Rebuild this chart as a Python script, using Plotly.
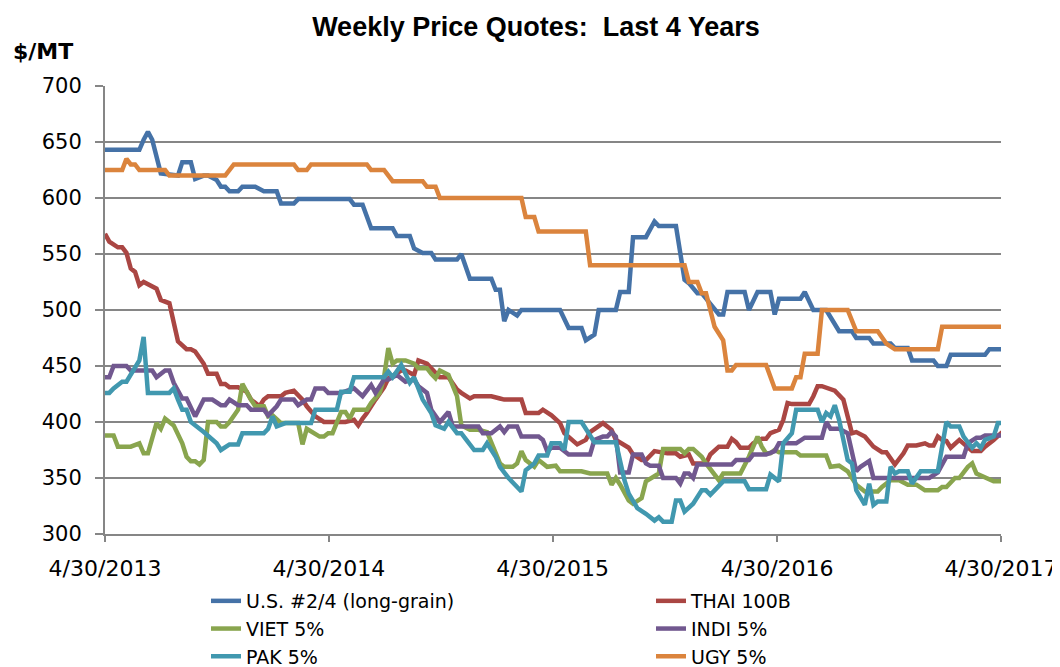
import pandas as pd
import plotly.graph_objects as go

# Week index (weeks after 4/30/2013) and price ($/MT) at vertices
us_weeks = [0, 8, 9, 10, 11, 12, 13, 17, 18, 20, 21, 23, 24, 26, 27, 28, 29, 31, 32, 35, 37, 40, 41, 44, 45, 57,
            58, 60, 62, 67, 68, 71, 72, 74, 76, 77, 82, 83, 85, 90, 91, 92, 93, 94, 96, 97, 106, 108, 111, 112,
            114, 115, 119, 120, 122, 123, 126, 128, 129, 133, 135, 136, 138, 139, 142, 143, 144, 145, 149, 150,
            152, 155, 156, 157, 162, 163, 165, 168, 171, 174, 175, 178, 179, 183, 184, 187, 188, 193, 194, 196,
            197, 205, 206, 209]
us_vals = [643, 643, 652, 659, 652, 636, 622, 620, 632, 632, 617, 620, 620, 616, 610, 610, 606, 606, 610, 610,
           606, 606, 595, 595, 599, 599, 594, 594, 573, 573, 566, 566, 555, 551, 551, 545, 545, 550, 528, 528,
           518, 518, 490, 500, 495, 500, 500, 484, 484, 473, 478, 500, 500, 516, 516, 565, 565, 579, 575, 575,
           527, 524, 515, 515, 500, 496, 496, 516, 516, 500, 516, 516, 496, 510, 510, 516, 500, 500, 481, 481,
           475, 475, 470, 470, 466, 466, 455, 455, 450, 450, 460, 460, 465, 465]

thai_weeks = [0, 1, 3, 4, 5, 6, 7, 8, 9, 12, 13, 15, 17, 19, 20, 21, 23, 24, 26, 27, 28, 29, 31, 33, 34, 36, 37,
              38, 41, 42, 44, 46, 47, 49, 51, 56, 58, 59, 60, 61, 63, 65, 66, 68, 69, 70, 72, 73, 75, 76, 78, 80,
              82, 83, 85, 86, 90, 92, 93, 97, 98, 101, 102, 104, 106, 107, 108, 110, 112, 113, 116, 118, 119, 122,
              123, 125, 126, 128, 131, 133, 134, 136, 137, 140, 141, 143, 145, 146, 147, 148, 150, 151, 153, 154,
              155, 157, 158, 159, 160, 164, 165, 166, 167, 169, 170, 172, 173, 174, 175, 177, 179, 181, 182, 183,
              184, 186, 187, 189, 191, 192, 193, 194, 195, 196, 197, 199, 201, 202, 204, 205, 207, 209]
thai_vals = [568, 561, 556, 556, 551, 537, 534, 522, 525, 519, 509, 506, 472, 465, 465, 463, 452, 443, 443, 434,
             434, 431, 431, 427, 420, 414, 420, 423, 423, 426, 428, 420, 414, 405, 400, 400, 402, 397, 403, 408,
             420, 431, 439, 443, 446, 446, 442, 455, 452, 448, 440, 440, 429, 426, 421, 423, 423, 421, 420, 420,
             408, 408, 411, 406, 399, 390, 387, 380, 384, 391, 399, 393, 384, 377, 371, 366, 366, 374, 372, 372,
             369, 371, 363, 363, 371, 378, 378, 385, 382, 377, 377, 381, 385, 385, 390, 393, 402, 417, 416, 416,
             423, 432, 432, 430, 428, 420, 405, 390, 391, 387, 378, 373, 373, 368, 362, 372, 379, 379, 381, 379,
             379, 387, 384, 383, 377, 384, 378, 374, 374, 378, 384, 391]

viet_weeks = [0, 2, 3, 6, 8, 9, 10, 11, 12, 13, 14, 16, 17, 18, 19, 20, 21, 22, 23, 24, 26, 27, 28, 29, 31, 32,
              34, 35, 37, 38, 39, 41, 45, 46, 47, 49, 50, 51, 52, 53, 54, 55, 56, 57, 58, 61, 62, 64, 65, 66, 67,
              68, 70, 72, 73, 75, 76, 77, 78, 80, 82, 83, 85, 87, 89, 90, 92, 93, 95, 96, 97, 98, 100, 101, 103,
              105, 106, 111, 113, 117, 118, 119, 120, 122, 123, 125, 126, 129, 130, 134, 135, 136, 137, 139, 140,
              143, 144, 148, 150, 152, 153, 154, 155, 156, 157, 161, 162, 168, 169, 171, 173, 175, 177, 180, 181,
              183, 185, 187, 189, 191, 194, 195, 196, 198, 199, 201, 202, 203, 205, 207, 209]
viet_vals = [388, 388, 378, 378, 381, 372, 372, 387, 399, 394, 403, 397, 388, 381, 369, 365, 365, 362, 366, 400,
             400, 396, 396, 400, 411, 434, 420, 414, 414, 405, 406, 399, 399, 380, 394, 390, 387, 387, 390, 390,
             401, 409, 409, 403, 411, 411, 417, 426, 440, 466, 452, 455, 455, 452, 448, 448, 443, 439, 446, 442,
             423, 397, 393, 393, 391, 381, 363, 360, 360, 363, 374, 366, 360, 366, 360, 361, 356, 356, 354, 354,
             344, 350, 344, 330, 327, 332, 347, 354, 376, 376, 372, 376, 376, 369, 363, 348, 354, 354, 369, 387,
             378, 372, 372, 375, 373, 373, 370, 370, 360, 361, 356, 344, 338, 338, 342, 348, 348, 344, 344, 339,
             339, 342, 342, 350, 350, 360, 363, 354, 351, 347, 347]

indi_weeks = [0, 1, 2, 5, 6, 11, 12, 14, 15, 16, 18, 19, 21, 23, 25, 27, 28, 29, 31, 33, 34, 37, 38, 40, 41, 44,
              45, 47, 48, 49, 51, 52, 55, 58, 60, 62, 63, 65, 66, 68, 70, 72, 73, 75, 76, 78, 80, 81, 83, 87, 88,
              90, 92, 93, 94, 96, 97, 101, 102, 103, 104, 106, 108, 113, 114, 116, 117, 118, 119, 120, 122, 123,
              125, 126, 127, 129, 130, 133, 134, 135, 136, 137, 138, 146, 147, 150, 151, 154, 156, 157, 161, 163,
              167, 168, 169, 171, 173, 175, 176, 178, 179, 192, 194, 196, 200, 201, 203, 204, 205, 209]
indi_vals = [440, 440, 450, 450, 446, 446, 440, 446, 446, 435, 421, 421, 405, 420, 420, 415, 415, 420, 415, 415,
             411, 411, 406, 414, 420, 420, 415, 420, 420, 430, 430, 426, 426, 430, 423, 433, 426, 438, 438, 442,
             436, 438, 432, 426, 411, 400, 409, 396, 396, 396, 390, 390, 396, 391, 396, 396, 387, 387, 384, 374,
             377, 377, 371, 371, 384, 387, 387, 391, 387, 355, 355, 371, 371, 363, 361, 361, 350, 350, 345, 354,
             354, 350, 362, 362, 366, 366, 371, 371, 374, 381, 381, 386, 386, 400, 394, 394, 390, 356, 360, 365,
             350, 350, 355, 369, 369, 381, 386, 386, 388, 388]

pak_weeks = [0, 1, 2, 4, 5, 6, 7, 8, 9, 10, 15, 16, 17, 18, 19, 20, 23, 26, 27, 29, 31, 32, 37, 38, 39, 40, 42,
             48, 49, 54, 55, 57, 58, 65, 66, 67, 69, 71, 72, 73, 74, 76, 77, 79, 80, 82, 83, 84, 86, 88, 89, 91,
             92, 94, 97, 98, 100, 101, 103, 104, 106, 107, 108, 111, 113, 114, 119, 121, 122, 124, 126, 128, 129,
             130, 132, 133, 134, 135, 137, 138, 139, 140, 141, 142, 144, 149, 150, 154, 155, 157, 158, 160, 161,
             166, 167, 168, 169, 170, 171, 173, 174, 175, 176, 177, 178, 179, 180, 182, 183, 184, 185, 187, 188,
             190, 194, 195, 196, 197, 199, 200, 202, 203, 204, 205, 207, 208, 209]
pak_vals = [426, 426, 430, 436, 436, 442, 448, 455, 476, 426, 426, 430, 420, 411, 411, 400, 391, 381, 375, 380,
            380, 390, 390, 394, 405, 396, 399, 399, 411, 411, 427, 427, 440, 440, 445, 440, 451, 435, 440, 429,
            420, 408, 397, 394, 400, 390, 390, 385, 375, 375, 381, 369, 360, 350, 338, 357, 363, 370, 370, 381,
            381, 375, 400, 400, 387, 382, 382, 348, 336, 323, 318, 312, 315, 311, 311, 330, 330, 320, 327, 333,
            339, 339, 335, 339, 347, 347, 340, 340, 353, 347, 381, 390, 411, 411, 400, 408, 405, 415, 402, 366,
            363, 339, 333, 326, 345, 326, 329, 329, 360, 354, 356, 356, 345, 356, 356, 378, 400, 396, 396, 387,
            377, 381, 377, 384, 387, 399, 399]

ugy_weeks = [0, 4, 5, 6, 7, 8, 14, 15, 28, 30, 44, 45, 47, 48, 61, 62, 65, 67, 74, 75, 77, 78, 97, 98, 100, 101,
             112, 113, 135, 136, 138, 139, 140, 142, 144, 145, 146, 147, 154, 156, 160, 161, 162, 163, 166, 167,
             173, 175, 180, 182, 184, 194, 195, 209]
ugy_vals = [625, 625, 635, 630, 630, 625, 625, 620, 620, 630, 630, 625, 625, 630, 630, 625, 625, 615, 615, 610,
            610, 600, 600, 583, 583, 570, 570, 540, 540, 525, 525, 515, 515, 485, 473, 446, 446, 451, 451, 430,
            430, 440, 440, 461, 461, 500, 500, 481, 481, 470, 465, 465, 485, 485]

series_names = ["U.S. #2/4 (long-grain)", "THAI 100B", "VIET 5%", "INDI 5%", "PAK 5%", "UGY 5%"]
series_weeks = [us_weeks, thai_weeks, viet_weeks, indi_weeks, pak_weeks, ugy_weeks]
series_vals = [us_vals, thai_vals, viet_vals, indi_vals, pak_vals, ugy_vals]
series_colors = ["#4572A7", "#AA4643", "#89A54E", "#71588F", "#4198AF", "#DB843D"]

tick_dates = ["2013-04-30", "2014-04-30", "2015-04-30", "2016-04-30", "2017-04-30"]
tick_labels = ["4/30/2013", "4/30/2014", "4/30/2015", "4/30/2016", "4/30/2017"]

start = pd.Timestamp("2013-04-30")

fig = go.Figure()
for name, wk, vals, col in zip(series_names, series_weeks, series_vals, series_colors):
    dates = start + pd.to_timedelta([w * 7 for w in wk], unit="D")
    fig.add_trace(go.Scatter(x=dates, y=vals, name=name, mode="lines",
                             line=dict(color=col, width=4.5)))

# The page body adds an 8px offset; lay out in page pixels and subtract it.
OFF = 8
W, H = 1060 - OFF, 667 - OFF
PL, PR, PT, PB = 105 - OFF, 1001 - OFF, 86 - OFF, 534 - OFF
PW, PH = PR - PL, PB - PT

font_family = "DejaVu Sans"
fig.update_layout(
    width=W, height=H,
    margin=dict(l=PL, r=W - PR, t=PT, b=H - PB, autoexpand=False),
    plot_bgcolor="white", paper_bgcolor="white",
    font=dict(family=font_family, color="black", size=21),
    title=dict(text="<b>Weekly Price Quotes:  Last 4 Years</b>", x=(536 - OFF) / W, xanchor="center",
               y=1 - (27 - OFF) / H, yanchor="middle",
               font=dict(family="Liberation Sans", size=27)),
    showlegend=True,
    legend=dict(orientation="h", x=(206 - 105) / PW, xanchor="left",
                y=(534 - 582) / PH, yanchor="top", entrywidth=400, entrywidthmode="pixels",
                font=dict(size=19), traceorder="normal", tracegroupgap=0),
    xaxis=dict(type="date", range=["2013-04-30", "2017-04-30"], tickvals=tick_dates, ticktext=tick_labels,
               showgrid=False, showline=True, linecolor="#868686", linewidth=2,
               ticks="outside", ticklen=6, tickcolor="#868686", tickwidth=2,
               ticklabelstandoff=8, tickfont=dict(size=22)),
    yaxis=dict(range=[300, 700], dtick=50, tick0=300, showgrid=True, gridcolor="#868686", gridwidth=2,
               showline=True, linecolor="#868686", linewidth=2, zeroline=False,
               ticks="outside", ticklen=8, tickcolor="#868686", tickwidth=2,
               ticklabelstandoff=9, tickfont=dict(size=21)),
)
fig.add_annotation(text="<b>$/MT</b>", xref="paper", yref="paper", x=-(105 - 11) / PW, xanchor="left",
                   y=(534 - 51) / PH, yanchor="middle", showarrow=False, font=dict(size=22))

fig.write_html("out.html")
